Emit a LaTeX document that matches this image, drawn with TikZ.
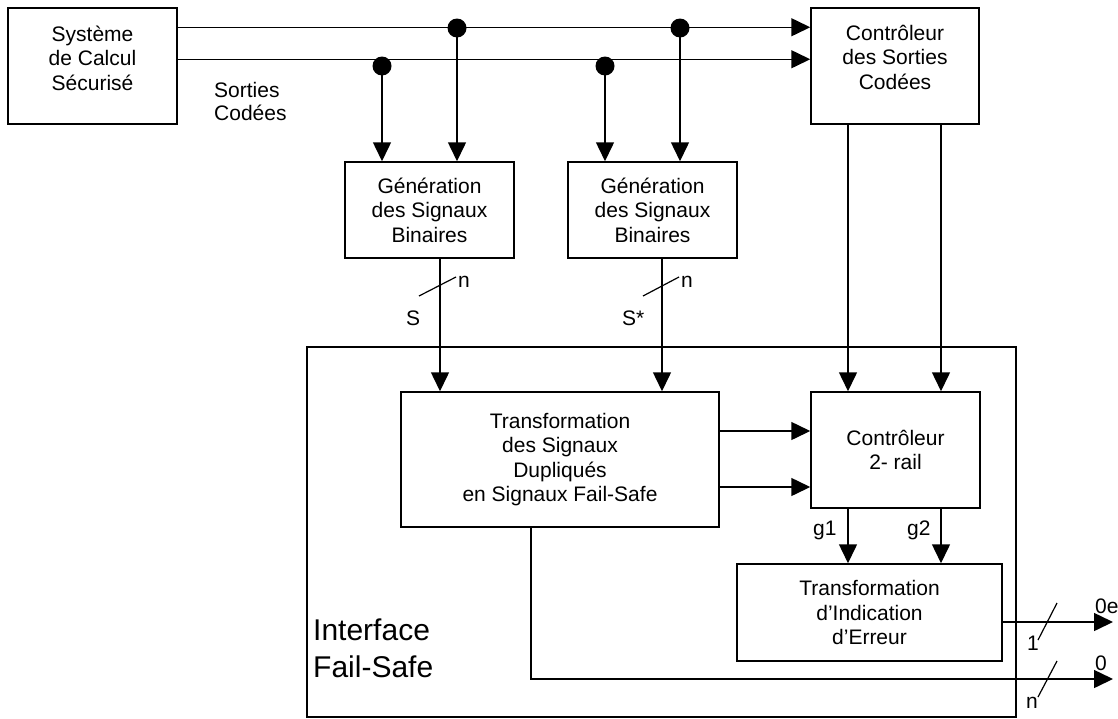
\documentclass[tikz,border=0pt]{standalone}
\usepackage{fontspec}
\setmainfont{Liberation Sans}
\usetikzlibrary{arrows.meta,calc}
\begin{document}
\begin{tikzpicture}[x=1pt,y=-1pt,
  box/.style={draw, line width=1.5pt, inner sep=0pt, align=center, font=\fontsize{21}{24.5}\selectfont},
  lbl/.style={inner sep=0pt, font=\fontsize{21}{24.5}\selectfont},
  biglbl/.style={inner sep=0pt, anchor=base west, font=\fontsize{30}{37}\selectfont},
  wire/.style={line width=1.5pt},
  arr/.style={wire, -{Triangle[length=19pt,width=18pt]}},
  dot/.style={circle, fill, inner sep=0pt, minimum size=19pt},
  slash/.style={line width=1.2pt}
]
\useasboundingbox (0,0) rectangle (1118,718);

% boxes
\node[box, minimum width=709pt, minimum height=370pt] (iface) at (661.5,532) {};
\node[box, minimum width=169pt, minimum height=116pt] (sys) at (92.5,66) {};
\node[lbl, align=center] (systxt) at ([yshift=8pt]sys.center) {Système\\de Calcul\\Sécurisé};
\node[box, minimum width=168pt, minimum height=116pt] (cso) at (895,66) {};
\node[lbl, align=center] (csotxt) at ([yshift=9pt]cso.center) {Contrôleur\\des Sorties\\Codées};
\node[box, minimum width=169pt, minimum height=96pt] (gen1) at (429.5,210) {Génération\\des Signaux\\Binaires};
\node[box, minimum width=169pt, minimum height=96pt] (gen2) at (652.5,210) {Génération\\des Signaux\\Binaires};
\node[box, minimum width=318pt, minimum height=135pt] (trans) at (560,459.5) {Transformation\\des Signaux\\Dupliqués\\en Signaux Fail-Safe};
\node[box, minimum width=169pt, minimum height=116pt] (c2r) at (895.5,450) {Contrôleur\\2- rail};
\node[box, minimum width=265pt, minimum height=97pt] (ind) at (869.5,612.5) {Transformation\\d’Indication\\d’Erreur};

% labels
\node[lbl, anchor=base west] (sor) at (214,97) {Sorties};
\node[lbl, anchor=base west] (cod) at (214,120) {Codées};
\node[biglbl] (if1) at (313,640) {Interface};
\node[biglbl] (if2) at (313,677) {Fail-Safe};

% coded output lines
\draw[arr] ([yshift=-20pt]sys.north east) -- ([yshift=-20pt]cso.north west);
\draw[arr] ([yshift=-52pt]sys.north east) -- ([yshift=-52pt]cso.north west);

\node[dot] (d1) at (457,28) {};
\node[dot] (d2) at (680,28) {};
\node[dot] (d3) at (382,66) {};
\node[dot] (d4) at (605,66) {};
\draw[arr] (d1.center) -- (d1.center |- gen1.north);
\draw[arr] (d3.center) -- (d3.center |- gen1.north);
\draw[arr] (d2.center) -- (d2.center |- gen2.north);
\draw[arr] (d4.center) -- (d4.center |- gen2.north);

% S and S*
\coordinate (g1o) at ([xshift=10.5pt]gen1.south);
\coordinate (g2o) at ([xshift=9.5pt]gen2.south);
\draw[arr] (g1o) -- (g1o |- trans.north);
\draw[arr] (g2o) -- (g2o |- trans.north);
\draw[slash] (419,296) -- (456,277);
\draw[slash] (643,296) -- (679,277);
\node[lbl, anchor=base west] (n1) at (458,287) {n};
\node[lbl, anchor=base west] (s1) at (406,325) {S};
\node[lbl, anchor=base west] (n2) at (681,287) {n};
\node[lbl, anchor=base west] (s2) at (622,325) {S*};

% trans -> 2-rail
\coordinate (t1) at ([yshift=28.5pt]trans.east);
\coordinate (t2) at ([yshift=-27.5pt]trans.east);
\draw[arr] (t1) -- (t1 -| c2r.west);
\draw[arr] (t2) -- (t2 -| c2r.west);

% cso -> 2-rail
\coordinate (c1) at ([xshift=-47pt]cso.south);
\coordinate (c2) at ([xshift=46pt]cso.south);
\draw[arr] (c1) -- (c1 |- c2r.north);
\draw[arr] (c2) -- (c2 |- c2r.north);

% 2-rail -> indication
\coordinate (r1) at (c1 |- c2r.south);
\coordinate (r2) at (c2 |- c2r.south);
\draw[arr] (r1) -- (r1 |- ind.north);
\draw[arr] (r2) -- (r2 |- ind.north);
\node[lbl, anchor=base west] (lg1) at (813,535) {g1};
\node[lbl, anchor=base west] (lg2) at (907,535) {g2};

% outputs
\coordinate (e1) at ([yshift=-9.5pt]ind.east);
\coordinate (o1) at (1113,622);
\draw[arr] (e1) -- (o1);
\coordinate (tb) at ([xshift=-29pt]trans.south);
\coordinate (o2) at (1113,679);
\draw[arr] (tb) |- (o2);
\draw[slash] (1038,640) -- (1057,603);
\draw[slash] (1038,697) -- (1057,661);
\node[lbl, anchor=base west] (l1) at (1027,650) {1};
\node[lbl, anchor=base west] (ln) at (1026,708) {n};
\node[lbl, anchor=base west] (l0e) at (1095,613) {0e};
\node[lbl, anchor=base west] (l0) at (1095,670) {0};
\end{tikzpicture}
\end{document}
